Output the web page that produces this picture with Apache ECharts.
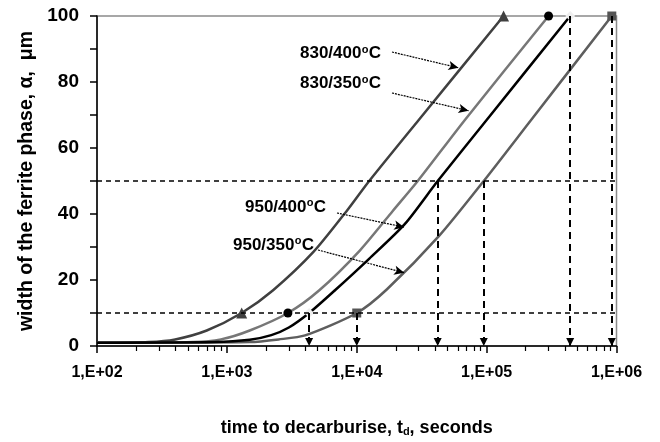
<!DOCTYPE html>
<html><head><meta charset="utf-8">
<script src="https://cdn.jsdelivr.net/npm/echarts@6/dist/echarts.min.js"></script>
<style>html,body{margin:0;padding:0;background:#fff}#c{width:660px;height:442px}</style>
</head><body><div id="c"></div>
<script>
// ---- data ----
const xTickValues = [100, 1000, 10000, 100000, 1000000];
const xTickLabels = ['1,E+02', '1,E+03', '1,E+04', '1,E+05', '1,E+06'];
const yTickLabels = ['0', '20', '40', '60', '80', '100'];

const t830_400 = [100, 250, 400, 700, 1300, 2270, 4640, 8400, 12470, 30000, 135000];
const a830_400 = [1.0, 1.2, 2.0, 4.7, 10, 16.9, 28.5, 41, 50, 68.5, 100];
const m830_400 = [1300, 135000];

const t830_350 = [100, 550, 900, 1500, 2950, 5150, 10600, 19000, 29500, 68000, 300000];
const a830_350 = [1.0, 1.2, 2.0, 4.7, 10, 16.9, 29, 41, 50, 68.5, 100];
const m830_350 = [2950, 300000];

const t950_400 = [100, 800, 1500, 2200, 3000, 4300, 6800, 12500, 23500, 42000, 100000, 440000];
const a950_400 = [1.0, 1.2, 1.9, 3.3, 5.6, 10, 16.9, 26.5, 37, 50, 68.5, 100];
const m950_400 = [4300, 440000];

const t950_350 = [100, 1500, 2500, 4000, 10000, 17100, 42700, 95000, 220000, 920000];
const a950_350 = [1.0, 1.2, 2.0, 3.2, 10, 17.2, 33.2, 50, 68.5, 100];
const m950_350 = [10000, 920000];

const guideLevels = [10, 50];
const dropT = [4300, 10000, 42000, 95000, 440000, 920000];
const dropFrom = [10, 10, 50, 50, 100, 100];

const annoNames = ['830/400', '830/350', '950/400', '950/350'];
const annoTipT = [60700, 72600, 23200, 23200];
const annoTipA = [84.3, 71.3, 36, 22.2];

// ---- layout / style ----
const FONT = "'Liberation Sans', Arial, sans-serif";
const annoTextPos = [[300, 53.5], [300, 83.5], [245, 207], [233, 245]];   // left, cap-centre y (px)
const annoStartPx = [[392, 52], [392, 93], [337, 213], [318, 250]];
const ANNO_SIZE = 17, SUP_SIZE = 11;

const minorTicks = [];
for (let d = 100; d < 1000000; d *= 10) for (let k = 2; k <= 9; k++) minorTicks.push(d * k);

function mk(ts, as, marks, sym) {
  return ts.map((t, i) => ({ value: [t, as[i]], symbol: marks.includes(t) ? sym : 'none' }));
}

const guideLines = [];
guideLevels.forEach(v => guideLines.push({ yAxis: v, lineStyle: { type: [5, 4], width: 1.5, color: '#000' } }));
dropT.forEach((t, i) => guideLines.push([
  { coord: [t, dropFrom[i]], symbol: 'none' },
  { coord: [t, 0], symbol: 'triangle', symbolSize: [8, 8], symbolOffset: [0, 4] }
]));
const dropLineStyle = { type: [7, 5], width: 2, color: '#000' };

const annoLines = annoNames.map((n, i) => [
  { x: annoStartPx[i][0], y: annoStartPx[i][1], symbol: 'none' },
  { coord: [annoTipT[i], annoTipA[i]], symbol: 'arrow', symbolSize: [7, 10] }
]);

// text measuring for the superscript "o"
const mctx = document.createElement('canvas').getContext('2d');
function textW(s, size) { mctx.font = 'bold ' + size + 'px ' + FONT; return mctx.measureText(s).width; }
const annoGraphics = [];
annoNames.forEach((n, i) => {
  const x = annoTextPos[i][0], yc = annoTextPos[i][1];
  const w1 = textW(n, ANNO_SIZE), w2 = textW('o', SUP_SIZE);
  const base = { fontFamily: FONT, fontWeight: 'bold', fill: '#000', verticalAlign: 'middle', align: 'left' };
  annoGraphics.push({ type: 'text', x: x, y: yc, z: 10, style: Object.assign({ text: n, fontSize: ANNO_SIZE }, base) });
  annoGraphics.push({ type: 'text', x: x + w1 + 0.3, y: yc - 4, z: 10, style: Object.assign({ text: 'o', fontSize: SUP_SIZE }, base) });
  annoGraphics.push({ type: 'text', x: x + w1 + w2 + 0.6, y: yc, z: 10, style: Object.assign({ text: 'C', fontSize: ANNO_SIZE }, base) });
});

const chart = echarts.init(document.getElementById('c'));
const lineBase = { type: 'line', smooth: 0.25, showSymbol: true, silent: true, animation: false };

chart.setOption({
  animation: false,
  backgroundColor: '#fff',
  grid: { left: 97, right: 43.5, top: 16, bottom: 93, show: true, borderColor: '#8a8a8a', borderWidth: 1.5 },
  xAxis: [{
    type: 'log', min: 100, max: 1000000, logBase: 10,
    axisLine: { lineStyle: { color: '#000', width: 1.5 } },
    axisTick: { customValues: xTickValues, length: 7, lineStyle: { color: '#000', width: 1.5 } },
    axisLabel: { customValues: xTickValues, formatter: v => xTickLabels[xTickValues.indexOf(Math.round(v))] || '',
      fontFamily: FONT, fontWeight: 'bold', fontSize: 16, color: '#000', margin: 19 },
    splitLine: { show: false },
    name: 'time to decarburise, t{sub|d}, seconds', nameLocation: 'middle', nameGap: 73,
    nameTextStyle: { fontFamily: FONT, fontWeight: 'bold', fontSize: 18, color: '#000',
      rich: { sub: { fontFamily: FONT, fontWeight: 'bold', fontSize: 11, verticalAlign: 'bottom', padding: [7, 0, 0, 0] } } }
  }, {
    type: 'log', min: 100, max: 1000000, logBase: 10, position: 'bottom',
    axisLine: { show: false },
    axisTick: { show: true, customValues: minorTicks, length: 5, lineStyle: { color: '#000', width: 1.2 } },
    axisLabel: { show: false }, splitLine: { show: false }
  }],
  yAxis: {
    type: 'value', min: 0, max: 100, interval: 10,
    axisLine: { show: true, lineStyle: { color: '#000', width: 1.5 } },
    axisTick: { show: true, length: 7, lineStyle: { color: '#000', width: 1.5 } },
    axisLabel: { formatter: v => (yTickLabels.includes(String(v)) ? String(v) : ''),
      fontFamily: FONT, fontWeight: 'bold', fontSize: 19, color: '#000', margin: 18 },
    splitLine: { show: false },
    name: 'width of the ferrite phase, α,  μm', nameLocation: 'middle', nameGap: 60, nameRotate: 90,
    nameTextStyle: { fontFamily: FONT, fontWeight: 'bold', fontSize: 19.5, color: '#000' }
  },
  series: [
    Object.assign({}, lineBase, { name: '950/350°C', data: mk(t950_350, a950_350, m950_350, 'rect'), z: 3,
      lineStyle: { color: '#5e5e5e', width: 2.5 }, itemStyle: { color: '#555' }, symbolSize: 9 }),
    Object.assign({}, lineBase, { name: '830/350°C', data: mk(t830_350, a830_350, m830_350, 'circle'), z: 3,
      lineStyle: { color: '#777', width: 2.5 }, itemStyle: { color: '#000' }, symbolSize: 9 }),
    Object.assign({}, lineBase, { name: '830/400°C', data: mk(t830_400, a830_400, m830_400, 'triangle'), z: 3,
      lineStyle: { color: '#404040', width: 2.5 }, itemStyle: { color: '#404040' }, symbolSize: 11 }),
    Object.assign({}, lineBase, { name: '950/400°C', data: mk(t950_400, a950_400, m950_400, 'diamond'), z: 4,
      lineStyle: { color: '#000', width: 2.5 }, itemStyle: { color: '#eeeeee' }, symbolSize: 10 }),
    { type: 'line', name: 'guides', data: [], silent: true, z: 2,
      markLine: { silent: true, animation: false, symbol: 'none', label: { show: false },
        lineStyle: dropLineStyle, itemStyle: { color: '#000' }, data: guideLines } },
    { type: 'line', name: 'anno', data: [], silent: true, z: 5,
      markLine: { silent: true, animation: false, symbol: 'none', label: { show: false },
        lineStyle: { type: [2, 1], width: 1.2, color: '#000' }, itemStyle: { color: '#000' }, data: annoLines } }
  ],
  graphic: annoGraphics
});
</script>
</body></html>
